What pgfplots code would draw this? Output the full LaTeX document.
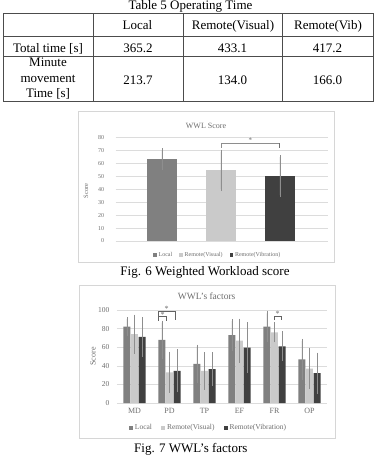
\documentclass[border=0pt]{standalone}
\usepackage{fontspec}
\setmainfont{Liberation Serif}
\usepackage{pgfplots}
\pgfplotsset{compat=1.18}
\definecolor{cLocal}{HTML}{808080}
\definecolor{cVis}{HTML}{CACACA}
\definecolor{cVib}{HTML}{404040}
\definecolor{txt}{HTML}{6E6E6E}
\definecolor{grd}{HTML}{DCDCDC}
\definecolor{errc}{HTML}{8E8E8E}
\definecolor{frame}{HTML}{D6D6D6}
\newcommand{\tfont}{\fontsize{13}{15}\selectfont}

\begin{document}
\begin{tikzpicture}
\fill[white] (0pt,0pt) rectangle (379pt,-459pt);
\useasboundingbox (0pt,0pt) rectangle (379pt,-459pt);

% ---------------- Table 5 ----------------
\node[font=\tfont, anchor=base] at (190.5pt,-9.3pt) {Table 5 Operating Time};
\begin{scope}[black!70, line width=0.7pt]
  \draw (3pt,-13pt) rectangle (373pt,-101pt);
  \draw (3pt,-36pt) -- (373pt,-36pt);
  \draw (3pt,-56pt) -- (373pt,-56pt);
  \draw (93pt,-13pt) -- (93pt,-101pt);
  \draw (183pt,-13pt) -- (183pt,-101pt);
  \draw (282pt,-13pt) -- (282pt,-101pt);
\end{scope}
\begin{scope}[every node/.style={font=\tfont, anchor=base, inner sep=0pt}]
  \node at (137.5pt,-29.5pt) {Local};
  \node at (233pt,-29.5pt) {Remote(Visual)};
  \node at (328pt,-29.5pt) {Remote(Vib)};
  \node at (48pt,-52.1pt) {Total time [s]};
  \node at (138pt,-52.1pt) {365.2};
  \node at (232.5pt,-52.1pt) {433.1};
  \node at (327.5pt,-52.1pt) {417.2};
  \node at (48pt,-66.5pt) {Minute};
  \node at (48pt,-82pt) {movement};
  \node at (48pt,-97.5pt) {Time [s]};
  \node at (138pt,-84pt) {213.7};
  \node at (232.5pt,-84pt) {134.0};
  \node at (327.5pt,-84pt) {166.0};
\end{scope}

% ---------------- Fig. 6: weighted workload score ----------------
\draw[frame, line width=0.6pt] (78.3pt,-111pt) rectangle (334.3pt,-262pt);
\node[font=\fontsize{8}{9}\selectfont, text=txt] at (206pt,-125.5pt) {WWL Score};
\node[font=\fontsize{6.5}{7}\selectfont, text=txt, rotate=90] at (86pt,-191pt) {Score};
\begin{axis}[
  at={(115.7pt,-241pt)}, anchor=south west,
  scale only axis, width=212.6pt, height=103.7pt,
  xmin=-0.78, xmax=2.82, ymin=0, ymax=80,
  ytick={0,10,...,80}, xtick=\empty,
  ymajorgrids, grid style={grd, line width=0.5pt},
  axis line style={draw=none},
  major tick length=0pt,
  clip=false,
  tick label style={font=\fontsize{6}{7}\selectfont, text=txt},
  /pgf/number format/assume math mode=true,
  yticklabel style={anchor=east, xshift=-8pt},
  ybar, bar width=29.5pt, bar shift=0pt,
  error bars/y dir=both, error bars/y explicit,
  error bars/error bar style={errc, line width=0.5pt},
  error bars/error mark options={errc, mark size=2pt, line width=0.5pt},
  legend columns=3,
  legend image code/.code={\fill[#1] (0pt,-1.7pt) rectangle (3.4pt,1.7pt);},
  legend style={draw=none, fill=none, font=\fontsize{6}{7}\selectfont, text=txt,
    at={(0.48,-0.135)}, anchor=center,
    /tikz/every even column/.append style={column sep=5pt}},
]
\addplot[fill=cLocal, draw=none] coordinates {(0,63) +- (0,7)};
\addplot[fill=cVis, draw=none] coordinates {(1,54.5) +- (0,14.5)};
\addplot[fill=cVib, draw=none] coordinates {(2,50) +- (0,14.7)};
\legend{Local, Remote(Visual), Remote(Vibration)}
% significance bracket
\draw[errc, line width=0.5pt] (axis cs:1,71.8) -- (axis cs:1,75.4) -- (axis cs:2,75.4);
\draw[errc!80!black, line width=1.2pt] (axis cs:2,75.4) -- (axis cs:2,71.6);
\node[font=\fontsize{7}{8}\selectfont, text=txt] at (axis cs:1.5,77.6) {*};
\end{axis}
\node[font=\tfont, anchor=base] at (205pt,-275.5pt) {Fig. 6 Weighted Workload score};

% ---------------- Fig. 7: WWL factors ----------------
\draw[frame, line width=0.6pt] (79.3pt,-285pt) rectangle (335pt,-438pt);
\node[font=\fontsize{9.5}{11}\selectfont, text=txt] at (206.7pt,-296.7pt) {WWL's factors};
\node[font=\fontsize{8}{9}\selectfont, text=txt, rotate=90] at (93pt,-356.5pt) {Score};
\begin{axis}[
  at={(117pt,-403pt)}, anchor=south west,
  scale only axis, width=210pt, height=93pt,
  xmin=-0.5, xmax=5.5, ymin=0, ymax=100,
  ytick={0,20,...,100},
  xtick={0,...,5}, xticklabels={MD,PD,TP,EF,FR,OP},
  ymajorgrids, grid style={grd, line width=0.5pt},
  axis line style={draw=none},
  major tick length=0pt,
  clip=false,
  tick label style={text=txt},
  yticklabel style={font=\fontsize{7.5}{8}\selectfont, anchor=east, xshift=-4pt},
  xticklabel style={font=\fontsize{8}{9}\selectfont, yshift=-2pt},
  /pgf/number format/assume math mode=true,
  ybar=0.6pt, bar width=7pt,
  error bars/y dir=both, error bars/y explicit,
  error bars/error bar style={errc, line width=0.5pt},
  error bars/error mark options={errc, mark size=2pt, line width=0.5pt},
  legend columns=3,
  legend image code/.code={\fill[#1] (0pt,-2pt) rectangle (4pt,2pt);},
  legend style={draw=none, fill=none, font=\fontsize{7.5}{8}\selectfont, text=txt,
    at={(0.436,-0.266)}, anchor=center,
    /tikz/every even column/.append style={column sep=7pt}},
]
\addplot[fill=cLocal, draw=none] coordinates {
  (0,82) +- (0,8.3)
  (1,68) +- (0,18.5)
  (2,42) +- (0,18.7)
  (3,73) +- (0,15)
  (4,82) +- (0,14.5)
  (5,47) +- (0,19.7)
};
\addplot[fill=cVis, draw=none] coordinates {
  (0,74) +- (0,19)
  (1,33) +- (0,20)
  (2,34.5) +- (0,18)
  (3,67) +- (0,21.5)
  (4,76) +- (0,8.6)
  (5,37) +- (0,20)
};
\addplot[fill=cVib, draw=none] coordinates {
  (0,71) +- (0,19)
  (1,34.5) +- (0,21)
  (2,36.5) +- (0,16)
  (3,59.5) +- (0,25)
  (4,61) +- (0,13.8)
  (5,32) +- (0,20)
};
\legend{Local, Remote(Visual), Remote(Vibration)}
% significance brackets
\begin{scope}[errc!70!black, line width=0.6pt]
  \draw (axis cs:0.69,88.5) -- (axis cs:0.69,92.8) -- (axis cs:0.92,92.8) -- (axis cs:0.92,88.5);
  \draw (axis cs:0.67,93.5) -- (axis cs:0.67,98.9) -- (axis cs:1.18,98.9) -- (axis cs:1.18,89);
  \draw (axis cs:3.99,89.2) -- (axis cs:3.99,93.5) -- (axis cs:4.2,93.5) -- (axis cs:4.2,89.2);
\end{scope}
\node[font=\fontsize{8}{9}\selectfont, text=txt] at (axis cs:0.806,94.5) {*};
\node[font=\fontsize{8}{9}\selectfont, text=txt] at (axis cs:0.92,101.5) {*};
\node[font=\fontsize{8}{9}\selectfont, text=txt] at (axis cs:4.09,95.3) {*};
\end{axis}
\node[font=\tfont, anchor=base] at (190.8pt,-452pt) {Fig. 7 WWL's factors};
\end{tikzpicture}
\end{document}
